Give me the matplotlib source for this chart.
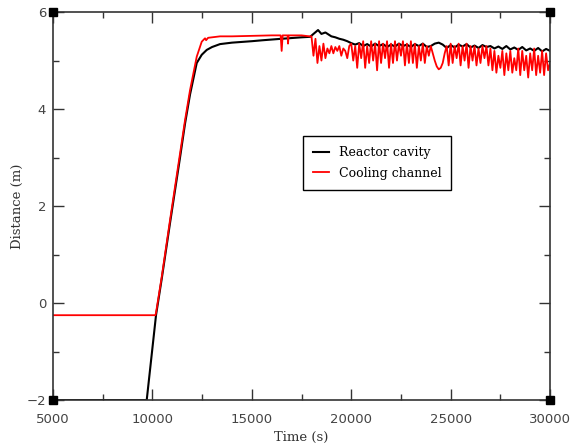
import matplotlib
matplotlib.use("Agg")
import matplotlib.pyplot as plt
from matplotlib.ticker import MultipleLocator

# Reactor cavity (black) - rise and plateau
cavity_t = [5000, 9713, 10181, 10468, 10885, 11388, 11640, 11891, 12228, 12480,
            12731, 13000, 13400, 14000, 15000, 15560, 16500, 17500, 17930, 18100,
            18330, 18500, 18700]
cavity_d = [-2.0, -2.0, -0.25, 0.5, 1.65, 3.0, 3.7, 4.3, 4.95, 5.12,
            5.22, 5.28, 5.34, 5.37, 5.4, 5.42, 5.45, 5.48, 5.49, 5.55,
            5.63, 5.55, 5.58]
# Reactor cavity - noisy part, every 200 s from 19000 s
cavity_noisy_t = list(range(19000, 30001, 200))
cavity_noisy_d = [5.5, 5.48, 5.45, 5.43, 5.4,
                  5.36, 5.33, 5.36, 5.3, 5.34,
                  5.29, 5.35, 5.3, 5.34, 5.28,
                  5.33, 5.29, 5.35, 5.3, 5.33,
                  5.28, 5.34, 5.3, 5.35, 5.28,
                  5.3, 5.35, 5.37, 5.33, 5.26,
                  5.32, 5.27, 5.33, 5.29, 5.34,
                  5.27, 5.31, 5.26, 5.32, 5.28,
                  5.3, 5.25, 5.29, 5.24, 5.3,
                  5.23, 5.27, 5.22, 5.28, 5.21,
                  5.25, 5.2, 5.26, 5.19, 5.24,
                  5.2]

# Cooling channel (red) - rise and plateau
cooling_t = [5000, 10150, 10181, 10468, 10885, 11388, 11640, 11891, 12228, 12480,
             12646, 12700, 12800, 13400, 14000, 15000, 16000, 16450, 16500, 16550,
             16800, 16820, 16850, 17000, 17500, 17900]
cooling_d = [-0.25, -0.25, -0.2, 0.54, 1.71, 3.09, 3.77, 4.39, 5.08, 5.39,
             5.46, 5.42, 5.47, 5.5, 5.5, 5.51, 5.52, 5.52, 5.2, 5.52,
             5.52, 5.35, 5.52, 5.52, 5.52, 5.5]
# Cooling channel - noisy part, every 100 s from 18000 s
cooling_noisy_t = list(range(18000, 30001, 100))
cooling_noisy_d = [5.5, 5.1, 5.45, 4.95, 5.3, 5.0, 5.35, 5.05, 5.25, 5.15,
                   5.3, 5.15, 5.28, 5.2, 5.3, 5.1, 5.25, 5.2, 5.05, 5.3,
                   5.35, 5.0, 5.3, 4.85, 5.35, 5.05, 5.4, 4.85, 5.3, 4.95,
                   5.4, 5.0, 5.35, 4.8, 5.4, 4.95, 5.35, 5.05, 5.4, 4.85,
                   5.35, 4.95, 5.4, 5.0, 5.35, 5.1, 5.4, 4.9, 5.35, 4.95,
                   5.4, 4.95, 5.35, 4.85, 5.3, 5.0, 5.35, 4.95, 5.3, 5.1,
                   5.3, 5.15, 5.0, 4.88, 4.82, 4.85, 4.95, 5.15, 5.3, 4.9,
                   5.35, 4.95, 5.3, 5.05, 5.35, 4.9, 5.3, 5.0, 5.35, 4.85,
                   5.3, 5.0, 5.3, 4.9, 5.25, 4.95, 5.3, 5.05, 5.3, 4.9,
                   5.25, 4.8, 5.2, 4.75, 5.1, 4.85, 5.2, 4.7, 5.15, 4.8,
                   5.2, 4.75, 5.05, 4.8, 5.25, 4.7, 5.2, 4.8, 5.1, 4.65,
                   5.15, 4.8, 5.25, 4.7, 5.1, 4.75, 5.2, 4.7, 5.15, 4.8,
                   4.95]

xlim = (5000, 30000)
ylim = (-2, 6)


def draw():
    fig = plt.figure(figsize=(5.8, 4.48), dpi=100)
    ax = fig.add_axes([0.0914, 0.107, 0.857, 0.866])

    ax.plot(cavity_t + cavity_noisy_t, cavity_d + cavity_noisy_d,
            color="black", lw=1.5, label="Reactor cavity")
    ax.plot(cooling_t + cooling_noisy_t, cooling_d + cooling_noisy_d,
            color="red", lw=1.3, label="Cooling channel")

    ax.set_xlim(*xlim)
    ax.set_ylim(*ylim)
    ax.xaxis.set_major_locator(MultipleLocator(5000))
    ax.xaxis.set_minor_locator(MultipleLocator(2500))
    ax.yaxis.set_major_locator(MultipleLocator(2))
    ax.yaxis.set_minor_locator(MultipleLocator(1))
    ax.tick_params(which="both", direction="in", top=True, right=True,
                   color="#333333", labelcolor="#444444", labelsize=9.5)
    ax.tick_params(which="major", length=8, width=1)
    ax.tick_params(which="minor", length=4, width=1)
    ax.tick_params(axis="x", which="major", pad=9)
    ax.tick_params(axis="y", which="major", pad=5)
    for s in ax.spines.values():
        s.set_color("#333333")
        s.set_linewidth(1.2)

    # corner squares
    cx = [xlim[0], xlim[0], xlim[1], xlim[1]]
    cy = [ylim[0], ylim[1], ylim[0], ylim[1]]
    ax.plot(cx, cy, ls="none", marker="s", ms=6, color="black", clip_on=False, zorder=5)

    ax.set_xlabel("Time (s)", family="DejaVu Serif", fontsize=9.5, color="#333333", labelpad=4)
    ax.set_ylabel("Distance (m)", family="DejaVu Serif", fontsize=9.5, color="#333333", labelpad=2)

    leg = ax.legend(loc="upper left", bbox_to_anchor=(0.502, 0.68), borderaxespad=0,
                    fancybox=False, edgecolor="black", framealpha=1, handlelength=1.3,
                    prop={"family": "DejaVu Serif", "size": 9},
                    borderpad=0.8, labelspacing=0.6)
    leg.get_frame().set_linewidth(1.0)

    fig.savefig("out.png", dpi=100)
    plt.close(fig)


if __name__ == "__main__":
    draw()
